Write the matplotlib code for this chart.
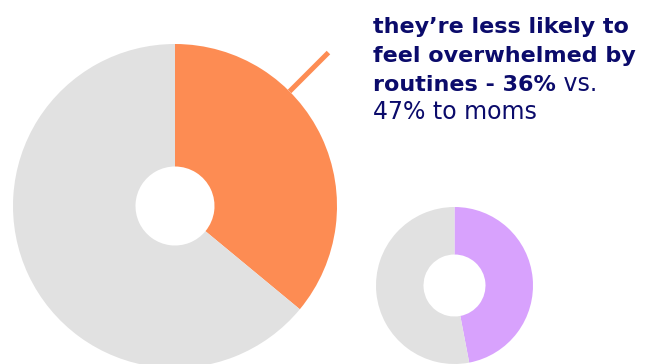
import numpy as np
import matplotlib
matplotlib.use("Agg")
import matplotlib.pyplot as plt

# доли в процентах
dads_share = 36
moms_share = 47
big_values = [dads_share, 100 - dads_share]
small_values = [moms_share, 100 - moms_share]

orange = "#FD8C53"
purple = "#D8A2FD"
grey = "#E1E1E1"
navy = "#0B0B6B"

plt.rcParams['font.family'] = ['DejaVu Sans']

W, H = 655, 364
fig = plt.figure(figsize=(W / 100, H / 100), dpi=100)
ax = fig.add_axes([0, 0, 1, 1])

# большое кольцо
big_c, big_r, big_hole = (175, 158), 162, 39.5
ax.pie(big_values, colors=[orange, grey], startangle=90, counterclock=False,
       center=big_c, radius=big_r,
       wedgeprops=dict(width=big_r - big_hole, linewidth=0))

# малое кольцо
small_c, small_r, small_hole = (454.5, 78.5), 78.5, 31
ax.pie(small_values, colors=[purple, grey], startangle=90, counterclock=False,
       center=small_c, radius=small_r,
       wedgeprops=dict(width=small_r - small_hole, linewidth=0))

# выноска от оранжевого сектора
ang = np.deg2rad(45)
r0, r1 = big_r, 217
ax.plot([big_c[0] + r0 * np.sin(ang), big_c[0] + r1 * np.sin(ang)],
        [big_c[1] + r0 * np.cos(ang), big_c[1] + r1 * np.cos(ang)],
        color=orange, lw=3.6, solid_capstyle='butt')

ax.set_xlim(0, W)
ax.set_ylim(0, H)
ax.set_aspect('equal')
ax.axis('off')

# подпись
tx = 373
fs_bold = 16
fs_reg = 17
bold_lines = ["they\u2019re less likely to", "feel overwhelmed by"]
baselines = [H - 33, H - 62, H - 91, H - 119]
for line, y in zip(bold_lines, baselines):
    ax.text(tx, y, line, fontsize=fs_bold, fontweight='bold', color=navy,
            va='baseline', ha='left')

t = ax.text(tx, baselines[2], "routines - 36%", fontsize=fs_bold, fontweight='bold',
            color=navy, va='baseline', ha='left')
fig.canvas.draw()
bb = t.get_window_extent()
ax.text(bb.x1, baselines[2], " vs.", fontsize=fs_reg, color=navy,
        va='baseline', ha='left')
ax.text(tx, baselines[3], "47% to moms", fontsize=fs_reg, color=navy,
        va='baseline', ha='left')

fig.savefig("out.png", dpi=100)
